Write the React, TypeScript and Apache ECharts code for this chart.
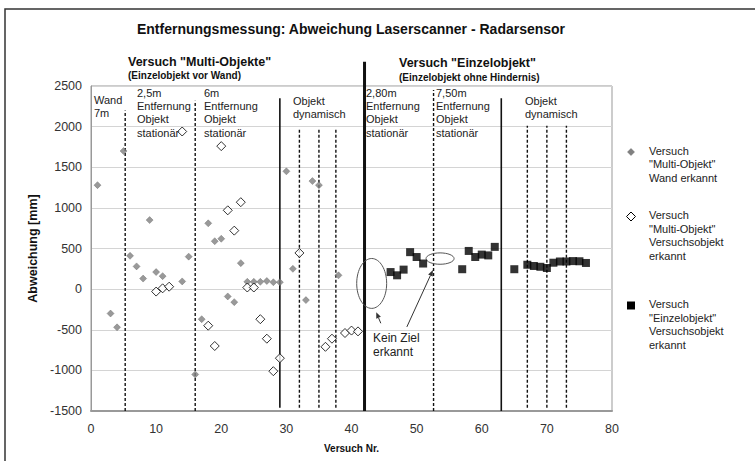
import React, { useEffect, useRef } from "react";
import * as echarts from "echarts";

// ---- data ----
const titleText = "Entfernungsmessung: Abweichung Laserscanner - Radarsensor";
const xTicks = { min: 0, max: 80, interval: 10 };
const yTicks = { min: -1500, max: 2500, interval: 500 };

// Versuch "Multi-Objekt" Wand erkannt
const wallDetected: number[][] = [
  [1, 1280], [3, -300], [4, -470], [5, 1700], [6, 410], [7, 280], [8, 130], [9, 850],
  [10, 210], [11, 160], [14, 95], [15, 400], [16, -1050], [17, -370], [18, 810],
  [19, 590], [20, 620], [21, -90], [22, -160], [23, 320], [24, 90], [25, 90], [26, 90],
  [27, 100], [28, 85], [29, 85], [30, 1450], [31, 250], [33, -135], [34, 1330],
  [35, 1280], [38, 170],
];
// Versuch "Multi-Objekt" Versuchsobjekt erkannt
const multiObjectDetected: number[][] = [
  [10, -30], [11, 10], [12, 30], [14, 1940], [18, -450], [19, -700], [20, 1760],
  [21, 970], [22, 720], [23, 1070], [24, 20], [25, 20], [26, -370], [27, -610],
  [28, -1010], [29, -850], [32, 445], [36, -710], [37, -610], [39, -540], [40, -510],
  [41, -520],
];
// Versuch "Einzelobjekt" Versuchsobjekt erkannt
const singleObjectDetected: number[][] = [
  [46, 210], [47, 170], [48, 240], [49, 455], [50, 395], [51, 315], [57, 245],
  [58, 470], [59, 395], [60, 425], [61, 415], [62, 520], [65, 245], [67, 300],
  [68, 285], [69, 275], [70, 260], [71, 325], [72, 340], [73, 340], [74, 345],
  [75, 343], [76, 322],
];
// section separators: [x, yBottom, yTop, kind] kind 0 dashed, 1 solid, 2 thick
const separators: number[][] = [
  [5.25, -1500, 2200, 0], [16, -1500, 2320, 0], [29, -1460, 2350, 1],
  [32, -1460, 1970, 0], [35, -1460, 1970, 0], [37.6, -1460, 1970, 0],
  [42, -1500, 2800, 2], [52.6, -1500, 2450, 0], [63, -1500, 2350, 1],
  [67, -1460, 2010, 0], [70, -1460, 2010, 0], [73, -1460, 2010, 0],
];
// "Kein Ziel erkannt" ellipses: [cx, cy, rx, ry] in data units
const noTargetEllipses: number[][] = [
  [43.1, 70, 2.3, 307],
  [53.6, 376, 2.15, 70],
];
// arrows: [xFrom, yFrom, xTo, yTo]
const noTargetArrows: number[][] = [
  [44.5, -420, 43.8, -285],
  [48.5, -465, 52.5, 235],
];
const noTargetLabel = [[43.3, -520]];

const sectionLabels = [
  { x: 94, y: 100, lines: ["Wand", "7m"] },
  { x: 137, y: 92.5, lines: ["2,5m", "Entfernung", "Objekt", "stationär"] },
  { x: 204, y: 92.5, lines: ["6m", "Entfernung", "Objekt", "stationär"] },
  { x: 293, y: 100.5, lines: ["Objekt", "dynamisch"] },
  { x: 366, y: 92.5, lines: ["2,80m", "Entfernung", "Objekt", "stationär"] },
  { x: 436, y: 92.5, lines: ["7,50m", "Entfernung", "Objekt", "stationär"] },
  { x: 525, y: 100.5, lines: ["Objekt", "dynamisch"] },
];

const legendItems = [
  { lines: ["Versuch", "\"Multi-Objekt\"", "Wand erkannt"], y: 150.5, icon: "gray" },
  { lines: ["Versuch", "\"Multi-Objekt\"", "Versuchsobjekt", "erkannt"], y: 215, icon: "hollow" },
  { lines: ["Versuch", "\"Einzelobjekt\"", "Versuchsobjekt", "erkannt"], y: 304, icon: "square" },
];

const FONT = "Liberation Sans, Arial, sans-serif";

export default function App() {
  const ref = useRef<HTMLDivElement>(null);
  useEffect(() => {
    if (!ref.current) return;
    const chart = echarts.init(ref.current, null, { renderer: "svg" });

    const graphics: any[] = [];
    graphics.push({
      type: "rect",
      shape: { x: 5, y: 9, width: 800, height: 500 },
      style: { fill: "none", stroke: "#333", lineWidth: 1.5 },
      silent: true,
    });
    graphics.push({
      type: "text", x: 351, y: 29, style: {
        text: titleText, font: `bold 14px ${FONT}`, fill: "#111",
        textAlign: "center", textVerticalAlign: "middle",
      },
    });
    graphics.push({
      type: "text", x: 128, y: 62, style: {
        text: "Versuch \"Multi-Objekte\"", font: `bold 12.5px ${FONT}`, fill: "#111",
        textVerticalAlign: "middle",
      },
    });
    graphics.push({
      type: "text", x: 128, y: 75, style: {
        text: "(Einzelobjekt vor Wand)", font: `bold 10px ${FONT}`, fill: "#111",
        textVerticalAlign: "middle",
      },
    });
    graphics.push({
      type: "text", x: 399, y: 63, style: {
        text: "Versuch \"Einzelobjekt\"", font: `bold 12.5px ${FONT}`, fill: "#111",
        textVerticalAlign: "middle",
      },
    });
    graphics.push({
      type: "text", x: 399, y: 77, style: {
        text: "(Einzelobjekt ohne Hindernis)", font: `bold 10px ${FONT}`, fill: "#111",
        textVerticalAlign: "middle",
      },
    });
    sectionLabels.forEach((s) => {
      s.lines.forEach((ln, i) => {
        graphics.push({
          type: "text", x: s.x, y: s.y + i * 13.4, z: 10, style: {
            text: ln, font: `11px ${FONT}`, fill: "#222", textVerticalAlign: "middle",
          },
        });
      });
    });
    legendItems.forEach((it) => {
      const cx = 631, cy = it.y + 1.5;
      if (it.icon === "gray") {
        graphics.push({
          type: "polygon", shape: { points: [[cx, cy - 3.5], [cx + 3.5, cy], [cx, cy + 3.5], [cx - 3.5, cy]] },
          style: { fill: "#808080", stroke: "#666", lineWidth: 0.5 },
        });
      } else if (it.icon === "hollow") {
        graphics.push({
          type: "polygon", shape: { points: [[cx, cy - 4.5], [cx + 4.5, cy], [cx, cy + 4.5], [cx - 4.5, cy]] },
          style: { fill: "#fff", stroke: "#000", lineWidth: 1 },
        });
      } else {
        graphics.push({
          type: "rect", shape: { x: cx - 4, y: cy - 4, width: 8, height: 8 },
          style: { fill: "#000" },
        });
      }
      it.lines.forEach((ln, i) => {
        graphics.push({
          type: "text", x: 649, y: it.y + i * 13.7, style: {
            text: ln, font: `11px ${FONT}`, fill: "#222", textVerticalAlign: "middle",
          },
        });
      });
    });

    const option: any = {
      animation: false,
      backgroundColor: "#fff",
      textStyle: { fontFamily: FONT },
      grid: { left: 91, right: 143, top: 86, bottom: 50, show: true, borderColor: "#999", borderWidth: 1 },
      xAxis: {
        type: "value", ...xTicks,
        name: "Versuch Nr.", nameLocation: "middle", nameGap: 32,
        nameTextStyle: { fontWeight: "bold", fontSize: 10, color: "#111", fontFamily: FONT },
        axisLine: { onZero: false, lineStyle: { color: "#999", width: 2 } },
        axisTick: { show: false },
        axisLabel: { fontSize: 12.5, color: "#333", margin: 11, fontFamily: FONT },
        splitLine: { show: false },
      },
      yAxis: {
        type: "value", ...yTicks,
        name: "Abweichung [mm]", nameLocation: "middle", nameGap: 42, nameRotate: 90,
        nameTextStyle: { fontWeight: "bold", fontSize: 12.5, color: "#111", fontFamily: FONT },
        axisLine: { show: true, lineStyle: { color: "#999" } },
        axisTick: { show: false },
        axisLabel: {
          fontSize: 12.5, color: "#333", margin: 9, fontFamily: FONT,
          formatter: (v: number) => String(v),
        },
        splitLine: { show: true, lineStyle: { color: "#d4d4d4", width: 1 } },
      },
      graphic: graphics,
      series: [
        {
          type: "custom", name: "separators", z: 1, clip: false, silent: true,
          data: separators,
          encode: { x: 0, y: [1, 2] },
          renderItem: (params: any, api: any) => {
            const x = api.value(0);
            const p1 = api.coord([x, api.value(1)]);
            const p2 = api.coord([x, api.value(2)]);
            const kind = api.value(3);
            return {
              type: "line",
              shape: { x1: p1[0], y1: p1[1], x2: p2[0], y2: p2[1] },
              style: {
                stroke: "#111",
                lineWidth: kind === 2 ? 3 : kind === 1 ? 1.6 : 1.4,
                lineDash: kind === 0 ? [3, 2] : null,
                fill: null,
              },
            };
          },
        },
        {
          type: "custom", name: "ellipses", z: 2, silent: true,
          data: noTargetEllipses,
          encode: { x: 0, y: 1 },
          renderItem: (params: any, api: any) => {
            const c = api.coord([api.value(0), api.value(1)]);
            const s = api.size([api.value(2), api.value(3)]);
            return {
              type: "ellipse",
              shape: { cx: c[0], cy: c[1], rx: s[0], ry: s[1] },
              style: { fill: "none", stroke: "#555", lineWidth: 1 },
            };
          },
        },
        {
          type: "custom", name: "arrows", z: 2, silent: true,
          data: noTargetArrows,
          encode: { x: [0, 2], y: [1, 3] },
          renderItem: (params: any, api: any) => {
            const a = api.coord([api.value(0), api.value(1)]);
            const b = api.coord([api.value(2), api.value(3)]);
            const ang = Math.atan2(b[1] - a[1], b[0] - a[0]);
            const L = 6, W = 2.5;
            const bx = b[0] - L * Math.cos(ang), by = b[1] - L * Math.sin(ang);
            const px = -Math.sin(ang) * W, py = Math.cos(ang) * W;
            return {
              type: "group",
              children: [
                { type: "line", shape: { x1: a[0], y1: a[1], x2: bx, y2: by }, style: { stroke: "#333", lineWidth: 1 } },
                { type: "polygon", shape: { points: [[b[0], b[1]], [bx + px, by + py], [bx - px, by - py]] }, style: { fill: "#333" } },
              ],
            };
          },
        },
        {
          type: "custom", name: "label", z: 2, silent: true,
          data: noTargetLabel,
          encode: { x: 0, y: 1 },
          renderItem: (params: any, api: any) => {
            const p = api.coord([api.value(0), api.value(1)]);
            return {
              type: "text", x: p[0], y: p[1],
              style: { text: "Kein Ziel\nerkannt", font: `12px ${FONT}`, fill: "#222", lineHeight: 14, verticalAlign: "top" },
            };
          },
        },
        {
          type: "scatter", name: "Versuch \"Multi-Objekt\" Wand erkannt", z: 5,
          data: wallDetected, symbol: "diamond", symbolSize: 7,
          itemStyle: { color: "#808080", borderColor: "#666", borderWidth: 0.5 },
        },
        {
          type: "scatter", name: "Versuch \"Multi-Objekt\" Versuchsobjekt erkannt", z: 5,
          data: multiObjectDetected, symbol: "diamond", symbolSize: 9,
          itemStyle: { color: "#fff", borderColor: "#000", borderWidth: 1 },
        },
        {
          type: "scatter", name: "Versuch \"Einzelobjekt\" Versuchsobjekt erkannt", z: 5,
          data: singleObjectDetected, symbol: "rect", symbolSize: 8,
          itemStyle: { color: "#000" },
        },
      ],
    };
    chart.setOption(option);
    return () => chart.dispose();
  }, []);
  return (
    <div
      ref={ref}
      style={{ position: "fixed", left: 0, top: 0, width: 755, height: 461, background: "#fff" }}
    />
  );
}
